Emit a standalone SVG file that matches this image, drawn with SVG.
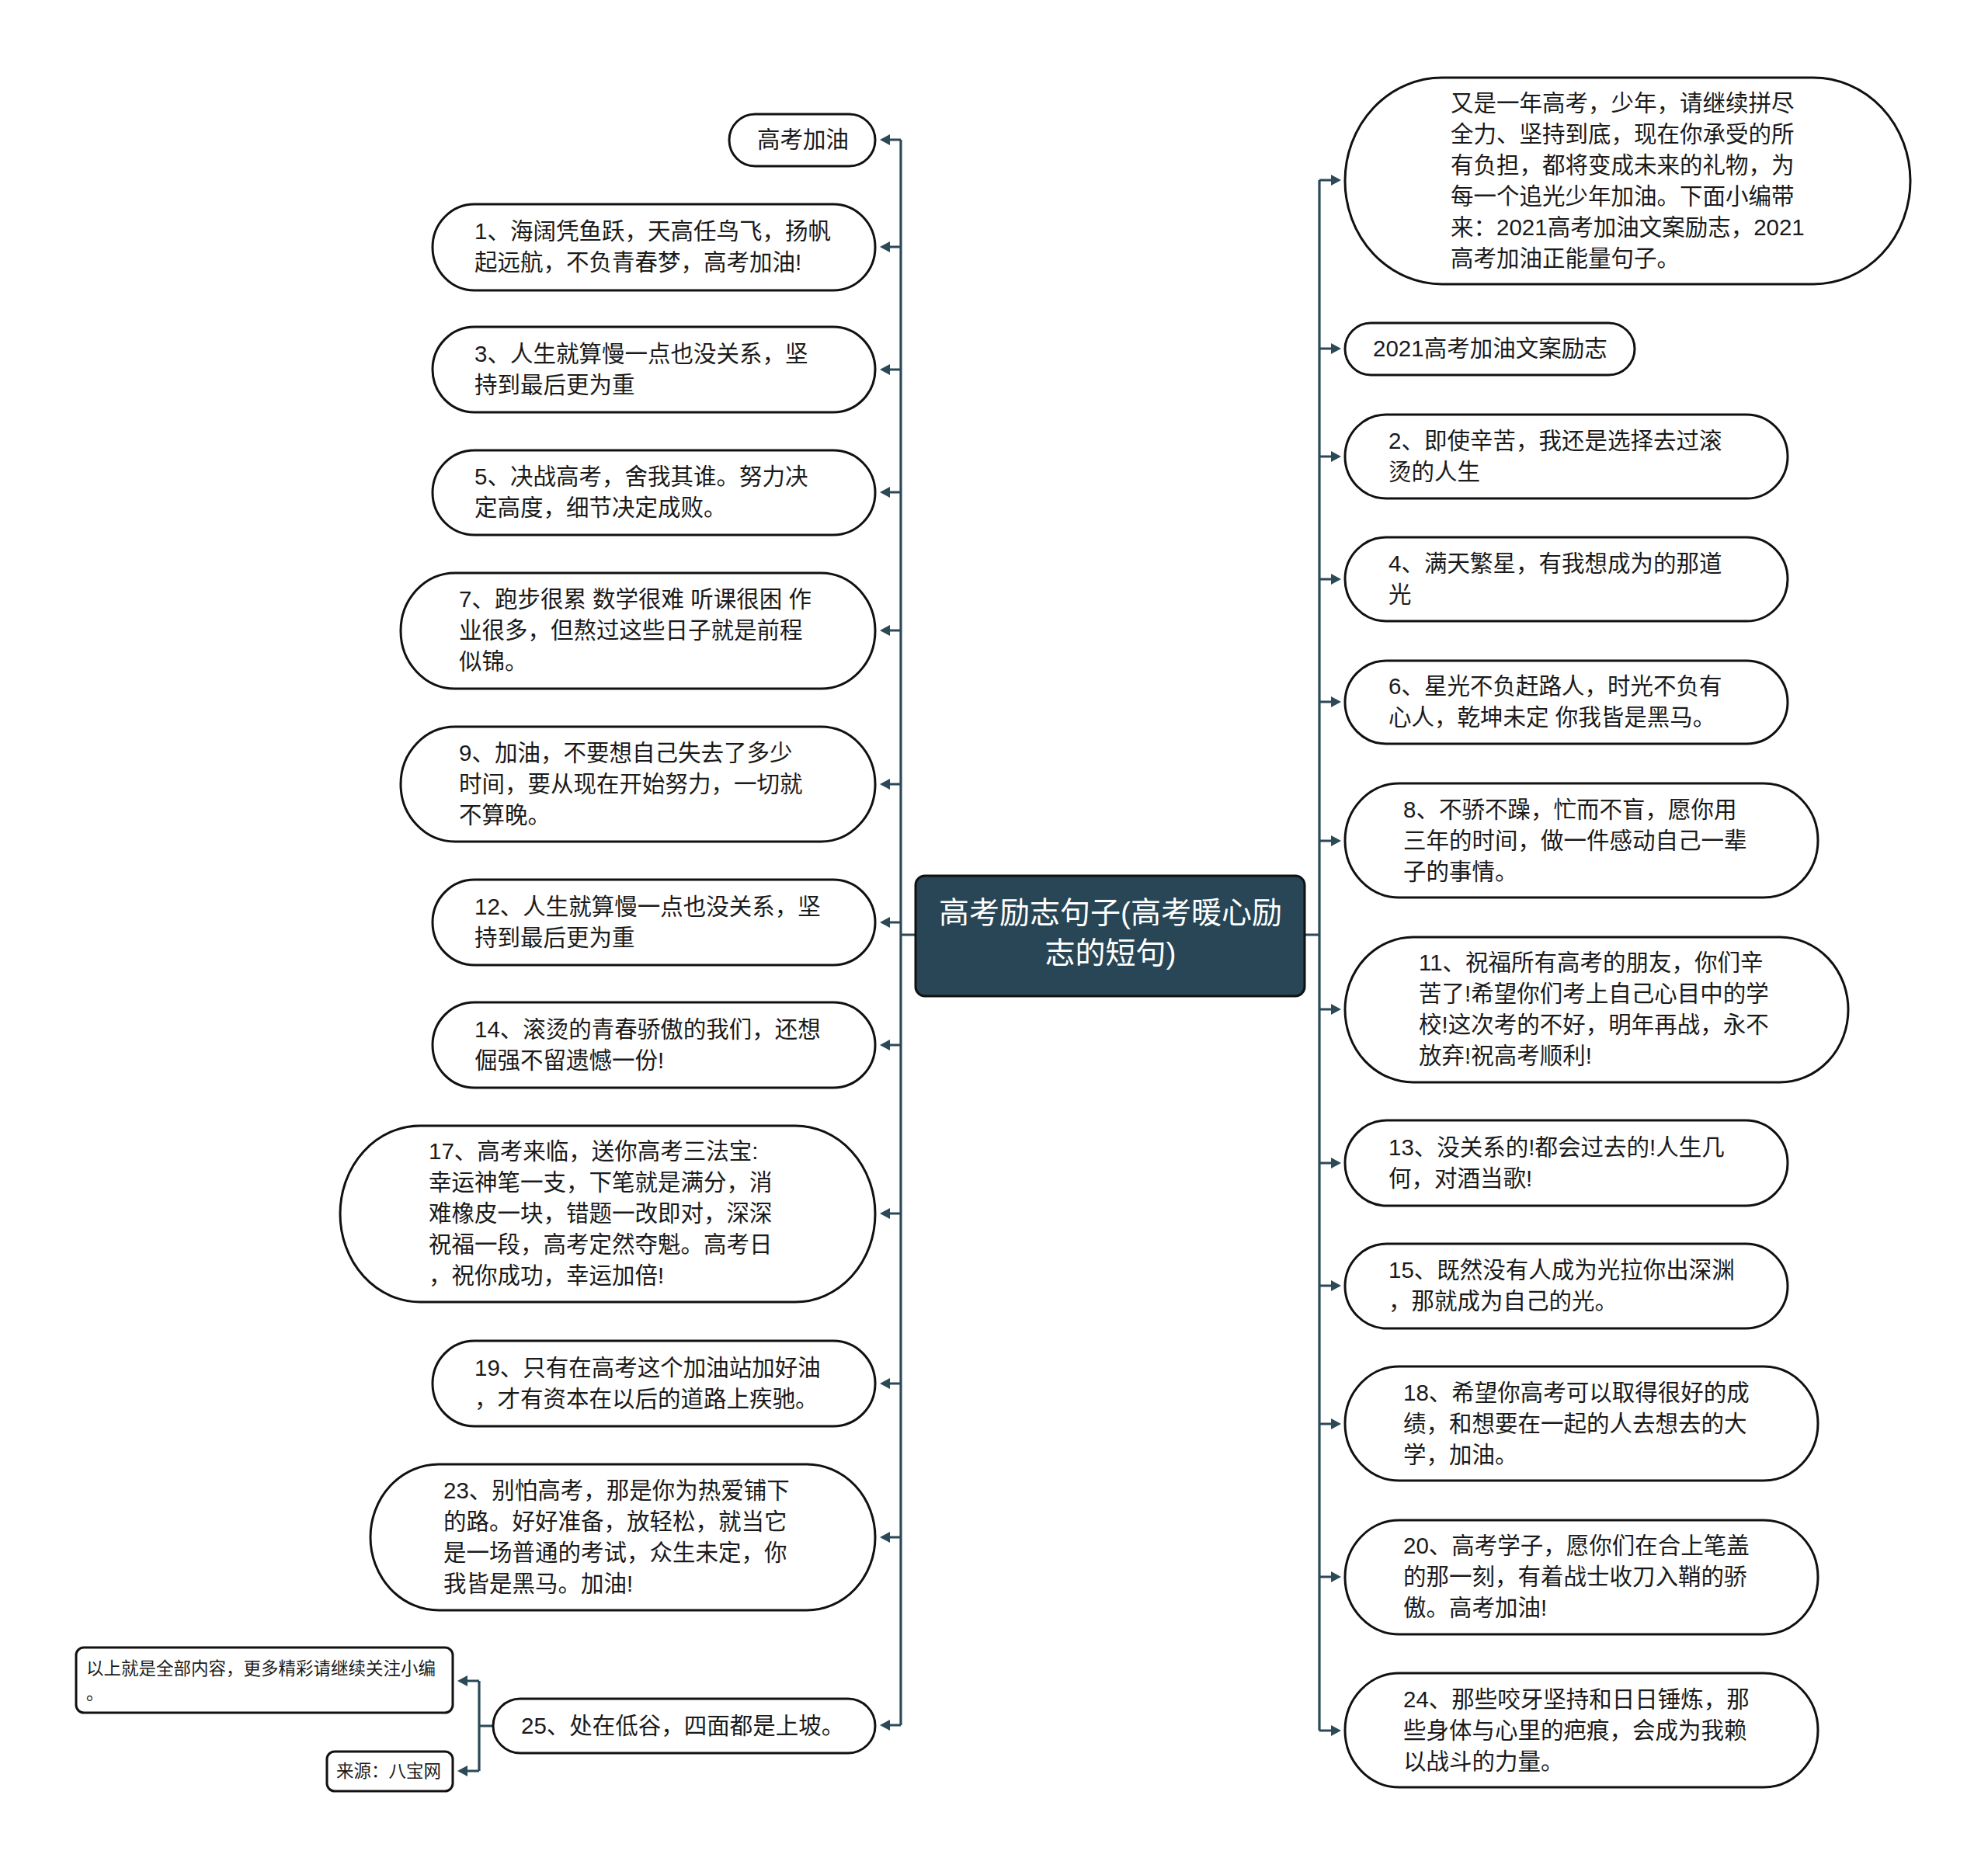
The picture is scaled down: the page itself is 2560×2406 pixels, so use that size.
<svg xmlns="http://www.w3.org/2000/svg" width="2560" height="2406" viewBox="0 0 2560 2406">
<style>
.n{fill:#fff;stroke:#111;stroke-width:3}
.c{fill:none;stroke:#2b4957;stroke-width:3.2}
.a{fill:#2b4957}
.t{font-family:"Liberation Sans","Noto Sans CJK SC",sans-serif;font-size:29.5px;fill:#1a1a1a}
.s{font-family:"Liberation Sans","Noto Sans CJK SC",sans-serif;font-size:22.5px;fill:#1a1a1a}
.m{font-family:"Liberation Sans","Noto Sans CJK SC",sans-serif;font-size:39px;fill:#fff;text-anchor:middle}
</style>
<rect width="2560" height="2406" fill="#fff"/>
<g id="connectors">
<path class="c" d="M1179,1204H1160M1160,180V2222M1160,180H1143M1160,318H1143M1160,476H1143M1160,634H1143M1160,812H1143M1160,1010H1143M1160,1188H1143M1160,1346H1143M1160,1563H1143M1160,1782H1143M1160,1980H1143M1160,2222H1143"/>
<path class="c" d="M1680,1204H1699M1699,232V2229M1699,232H1717M1699,449H1717M1699,588H1717M1699,746H1717M1699,904H1717M1699,1083H1717M1699,1300H1717M1699,1498H1717M1699,1656H1717M1699,1834H1717M1699,2031H1717M1699,2229H1717"/>
<path class="c" d="M635,2223H617M617,2165V2281M617,2165H599M617,2281H599"/>
<g class="a">
<polygon points="1133,180 1146,173 1146,187"/>
<polygon points="1133,318 1146,311 1146,325"/>
<polygon points="1133,476 1146,469 1146,483"/>
<polygon points="1133,634 1146,627 1146,641"/>
<polygon points="1133,812 1146,805 1146,819"/>
<polygon points="1133,1010 1146,1003 1146,1017"/>
<polygon points="1133,1188 1146,1181 1146,1195"/>
<polygon points="1133,1346 1146,1339 1146,1353"/>
<polygon points="1133,1563 1146,1556 1146,1570"/>
<polygon points="1133,1782 1146,1775 1146,1789"/>
<polygon points="1133,1980 1146,1973 1146,1987"/>
<polygon points="1133,2222 1146,2215 1146,2229"/>
<polygon points="1727,232 1714,225 1714,239"/>
<polygon points="1727,449 1714,442 1714,456"/>
<polygon points="1727,588 1714,581 1714,595"/>
<polygon points="1727,746 1714,739 1714,753"/>
<polygon points="1727,904 1714,897 1714,911"/>
<polygon points="1727,1083 1714,1076 1714,1090"/>
<polygon points="1727,1300 1714,1293 1714,1307"/>
<polygon points="1727,1498 1714,1491 1714,1505"/>
<polygon points="1727,1656 1714,1649 1714,1663"/>
<polygon points="1727,1834 1714,1827 1714,1841"/>
<polygon points="1727,2031 1714,2024 1714,2038"/>
<polygon points="1727,2229 1714,2222 1714,2236"/>
<polygon points="589,2165 602,2158 602,2172"/>
<polygon points="589,2281 602,2274 602,2288"/>
</g>
</g>
<g id="center">
<rect x="1179" y="1128" width="501" height="155" rx="12" fill="#284655" stroke="#111" stroke-width="3"/>
<text class="m"><tspan x="1430" y="1189">高考励志句子(高考暖心励</tspan><tspan x="1430" y="1241">志的短句)</tspan></text>
</g>
<g id="L0"><rect class="n" x="939" y="147" width="188" height="67" rx="33.5" ry="33.5"/>
<text class="t"><tspan x="975" y="190">高考加油</tspan></text></g>
<g id="L1"><rect class="n" x="557" y="263" width="570" height="111" rx="54" ry="55.5"/>
<text class="t"><tspan x="611" y="308">1、海阔凭鱼跃，天高任鸟飞，扬帆</tspan><tspan x="611" y="348">起远航，不负青春梦，高考加油!</tspan></text></g>
<g id="L3"><rect class="n" x="557" y="421" width="570" height="110" rx="54" ry="55"/>
<text class="t"><tspan x="611" y="466">3、人生就算慢一点也没关系，坚</tspan><tspan x="611" y="506">持到最后更为重</tspan></text></g>
<g id="L5"><rect class="n" x="557" y="580" width="570" height="109" rx="54" ry="54.5"/>
<text class="t"><tspan x="611" y="624">5、决战高考，舍我其谁。努力决</tspan><tspan x="611" y="664">定高度，细节决定成败。</tspan></text></g>
<g id="L7"><rect class="n" x="516" y="738" width="611" height="149" rx="70" ry="74.5"/>
<text class="t"><tspan x="591" y="782">7、跑步很累 数学很难 听课很困 作</tspan><tspan x="591" y="822">业很多，但熬过这些日子就是前程</tspan><tspan x="591" y="862">似锦。</tspan></text></g>
<g id="L9"><rect class="n" x="516" y="936" width="611" height="148" rx="70" ry="74"/>
<text class="t"><tspan x="591" y="980">9、加油，不要想自己失去了多少</tspan><tspan x="591" y="1020">时间，要从现在开始努力，一切就</tspan><tspan x="591" y="1060">不算晚。</tspan></text></g>
<g id="L12"><rect class="n" x="557" y="1133" width="570" height="110" rx="54" ry="55"/>
<text class="t"><tspan x="611" y="1178">12、人生就算慢一点也没关系，坚</tspan><tspan x="611" y="1218">持到最后更为重</tspan></text></g>
<g id="L14"><rect class="n" x="557" y="1291" width="570" height="110" rx="54" ry="55"/>
<text class="t"><tspan x="611" y="1336">14、滚烫的青春骄傲的我们，还想</tspan><tspan x="611" y="1376">倔强不留遗憾一份!</tspan></text></g>
<g id="L17"><rect class="n" x="438" y="1450" width="689" height="227" rx="103" ry="113.5"/>
<text class="t"><tspan x="552" y="1493">17、高考来临，送你高考三法宝:</tspan><tspan x="552" y="1533">幸运神笔一支，下笔就是满分，消</tspan><tspan x="552" y="1573">难橡皮一块，错题一改即对，深深</tspan><tspan x="552" y="1613">祝福一段，高考定然夺魁。高考日</tspan><tspan x="552" y="1653">，祝你成功，幸运加倍!</tspan></text></g>
<g id="L19"><rect class="n" x="557" y="1727" width="570" height="110" rx="54" ry="55"/>
<text class="t"><tspan x="611" y="1772">19、只有在高考这个加油站加好油</tspan><tspan x="611" y="1812">，才有资本在以后的道路上疾驰。</tspan></text></g>
<g id="L23"><rect class="n" x="477" y="1886" width="650" height="188" rx="88" ry="94"/>
<text class="t"><tspan x="571" y="1930">23、别怕高考，那是你为热爱铺下</tspan><tspan x="571" y="1970">的路。好好准备，放轻松，就当它</tspan><tspan x="571" y="2010">是一场普通的考试，众生未定，你</tspan><tspan x="571" y="2050">我皆是黑马。加油!</tspan></text></g>
<g id="L25"><rect class="n" x="635" y="2188" width="492" height="70" rx="35" ry="35"/>
<text class="t"><tspan x="671" y="2233">25、处在低谷，四面都是上坡。</tspan></text></g>
<g id="S1"><rect class="n" x="98" y="2122" width="485" height="84" rx="10"/>
<text class="s"><tspan x="111" y="2157">以上就是全部内容，更多精彩请继续关注小编</tspan><tspan x="111" y="2189">。</tspan></text></g>
<g id="S2"><rect class="n" x="421" y="2256" width="162" height="51" rx="10"/>
<text class="s"><tspan x="433" y="2289">来源：八宝网</tspan></text></g>
<g id="R0"><rect class="n" x="1732" y="100" width="728" height="266" rx="125" ry="133"/>
<text class="t"><tspan x="1868" y="143">又是一年高考，少年，请继续拼尽</tspan><tspan x="1868" y="183">全力、坚持到底，现在你承受的所</tspan><tspan x="1868" y="223">有负担，都将变成未来的礼物，为</tspan><tspan x="1868" y="263">每一个追光少年加油。下面小编带</tspan><tspan x="1868" y="303">来：2021高考加油文案励志，2021</tspan><tspan x="1868" y="343">高考加油正能量句子。</tspan></text></g>
<g id="R1"><rect class="n" x="1732" y="416" width="373" height="67" rx="33.5" ry="33.5"/>
<text class="t"><tspan x="1768" y="459">2021高考加油文案励志</tspan></text></g>
<g id="R2"><rect class="n" x="1732" y="534" width="570" height="108" rx="53" ry="54"/>
<text class="t"><tspan x="1788" y="578">2、即使辛苦，我还是选择去过滚</tspan><tspan x="1788" y="618">烫的人生</tspan></text></g>
<g id="R4"><rect class="n" x="1732" y="692" width="570" height="108" rx="53" ry="54"/>
<text class="t"><tspan x="1788" y="736">4、满天繁星，有我想成为的那道</tspan><tspan x="1788" y="776">光</tspan></text></g>
<g id="R6"><rect class="n" x="1732" y="851" width="570" height="107" rx="53" ry="53.5"/>
<text class="t"><tspan x="1788" y="894">6、星光不负赶路人，时光不负有</tspan><tspan x="1788" y="934">心人，乾坤未定 你我皆是黑马。</tspan></text></g>
<g id="R8"><rect class="n" x="1732" y="1009" width="609" height="147" rx="70" ry="73.5"/>
<text class="t"><tspan x="1807" y="1053">8、不骄不躁，忙而不盲，愿你用</tspan><tspan x="1807" y="1093">三年的时间，做一件感动自己一辈</tspan><tspan x="1807" y="1133">子的事情。</tspan></text></g>
<g id="R11"><rect class="n" x="1732" y="1207" width="648" height="187" rx="88" ry="93.5"/>
<text class="t"><tspan x="1827" y="1250">11、祝福所有高考的朋友，你们辛</tspan><tspan x="1827" y="1290">苦了!希望你们考上自己心目中的学</tspan><tspan x="1827" y="1330">校!这次考的不好，明年再战，永不</tspan><tspan x="1827" y="1370">放弃!祝高考顺利!</tspan></text></g>
<g id="R13"><rect class="n" x="1732" y="1443" width="570" height="110" rx="54" ry="55"/>
<text class="t"><tspan x="1788" y="1488">13、没关系的!都会过去的!人生几</tspan><tspan x="1788" y="1528">何，对酒当歌!</tspan></text></g>
<g id="R15"><rect class="n" x="1732" y="1602" width="570" height="109" rx="54" ry="54.5"/>
<text class="t"><tspan x="1788" y="1646">15、既然没有人成为光拉你出深渊</tspan><tspan x="1788" y="1686">，那就成为自己的光。</tspan></text></g>
<g id="R18"><rect class="n" x="1732" y="1760" width="609" height="147" rx="70" ry="73.5"/>
<text class="t"><tspan x="1807" y="1804">18、希望你高考可以取得很好的成</tspan><tspan x="1807" y="1844">绩，和想要在一起的人去想去的大</tspan><tspan x="1807" y="1884">学，加油。</tspan></text></g>
<g id="R20"><rect class="n" x="1732" y="1958" width="609" height="147" rx="70" ry="73.5"/>
<text class="t"><tspan x="1807" y="2001">20、高考学子，愿你们在合上笔盖</tspan><tspan x="1807" y="2041">的那一刻，有着战士收刀入鞘的骄</tspan><tspan x="1807" y="2081">傲。高考加油!</tspan></text></g>
<g id="R24"><rect class="n" x="1732" y="2155" width="609" height="147" rx="70" ry="73.5"/>
<text class="t"><tspan x="1807" y="2199">24、那些咬牙坚持和日日锤炼，那</tspan><tspan x="1807" y="2239">些身体与心里的疤痕，会成为我赖</tspan><tspan x="1807" y="2279">以战斗的力量。</tspan></text></g>
</svg>
